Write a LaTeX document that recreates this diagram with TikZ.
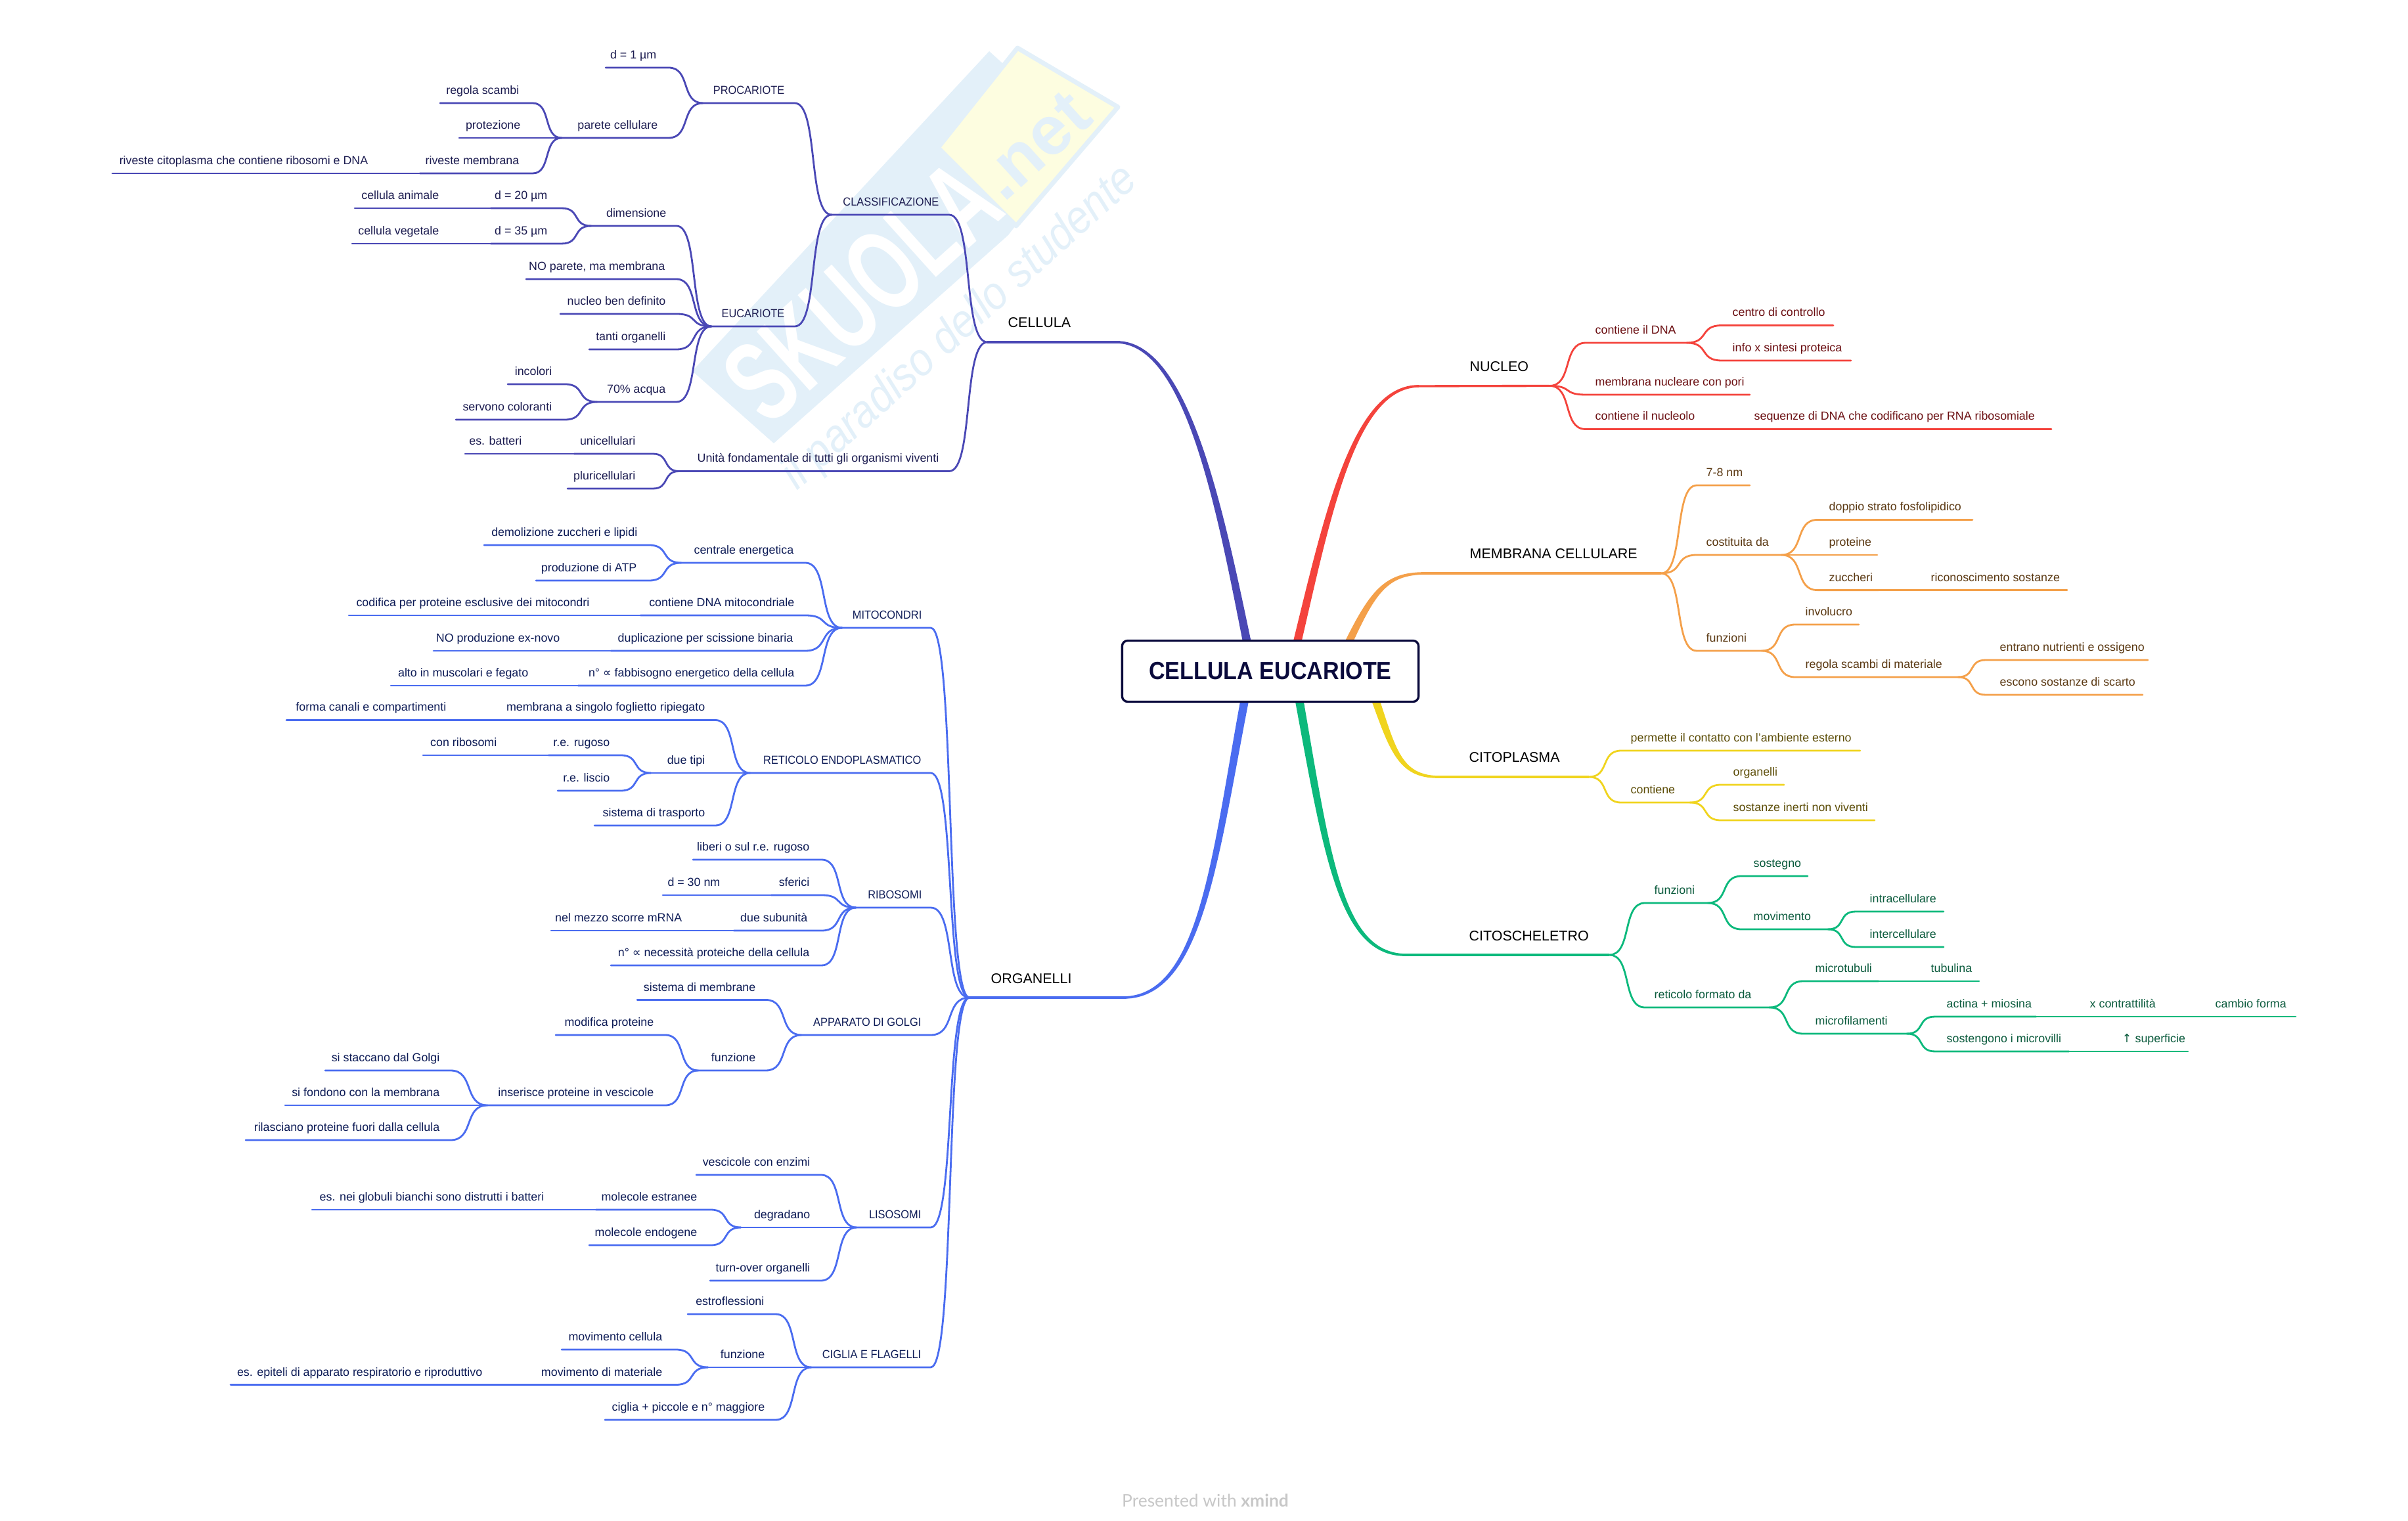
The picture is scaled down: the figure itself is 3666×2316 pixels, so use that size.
\documentclass[tikz,border=0pt]{standalone}
\usepackage{graphicx}
\usepackage{fontspec}
\setmainfont{Liberation Sans}
\newfontfamily\djv{DejaVu Sans}
\newfontfamily\latofam{Lato}
\usetikzlibrary{calc}
\definecolor{cCel}{HTML}{4A48B5}\definecolor{cCelT}{HTML}{1B1B4F}
\definecolor{cOrg}{HTML}{4A6CF0}\definecolor{cOrgT}{HTML}{0C1A55}
\definecolor{cNuc}{HTML}{F4433C}\definecolor{cNucT}{HTML}{6B0F12}
\definecolor{cMem}{HTML}{F4A04A}\definecolor{cMemT}{HTML}{5A3812}
\definecolor{cCit}{HTML}{F0D41E}\definecolor{cCitT}{HTML}{5C4D08}
\definecolor{cSch}{HTML}{0CB97C}\definecolor{cSchT}{HTML}{0A5A3C}
\definecolor{rootc}{HTML}{0A0A3C}
\definecolor{wmb}{HTML}{E3F0F9}\definecolor{wmy}{HTML}{FDFDE0}
\newcommand{\lbf}{\fontsize{5.07}{6}\selectfont}
\newcommand{\mainf}{\fontsize{6.1}{7}\selectfont}
\newcommand{\capf}[1]{\scalebox{.92}[1]{#1}}
\tikzset{
  lk/.style={draw=black,line width=.8pt,line cap=round},
  txt/.style={},
  mainlab/.style={inner sep=0pt,anchor=base west,font=\mainf,text=black},
  thin1/.style={line width=.95pt},
}
% topic: name, parent, inner x, outer x, y, text x, text
\newcommand{\T}[7]{%
  \coordinate (#1-i) at (#3,#5);
  \coordinate (#1-o) at (#4,#5);
  \node[inner sep=0pt,font=\lbf,txt] (#1) at (#6,#5-13.5) {#7};
  \draw[lk] let \p1=(#2-o),\p2=(#1-i),\n1={\x1+.65*(\x2-\x1)},\n2={\x2-.65*(\x2-\x1)} in
    (\p1) .. controls (\n1,\y1) and (\n2,\y2) .. (\p2) -- (#1-o);
}
% chained topic on the parent's line: name, parent, outer x, y, text x, text
\newcommand{\X}[6]{%
  \coordinate (#1-o) at (#3,#4);
  \node[inner sep=0pt,font=\lbf,txt] (#1) at (#5,#4-13.5) {#6};
  \draw[lk] (#2-o) -- (#1-o);
}
% tapered main branch: colour, root x, root y, c1 x, c1 y, c2 x, c2 y, end x, end y; \sg = side
\newcommand{\B}[9]{%
  \fill[#1] (#2-6.5,#3) .. controls (#4-5,#5) and (#6-3,#7+\sg*2.5) .. (#8,#9+\sg*1.8)
     -- (#8,#9-\sg*1.8) .. controls (#6+3,#7-\sg*2.5) and (#4+5,#5) .. (#2+6.5,#3) -- cycle;
}
\begin{document}
\begin{tikzpicture}[x=0.01cm,y=-0.01cm]
\useasboundingbox (0,0) rectangle (3666,2316);
% watermark
\fill[wmb] (1054,565) -- (1506,78) -- (1527,97) -- (1428,225) -- (1545,345) -- (1535,358) -- (1178,675) -- cycle;
\filldraw[fill=wmy,draw=wmb,line width=2pt,line join=round] (1549,73) -- (1702,163) -- (1547,344) -- (1428,225) -- cycle;
\node[rotate=42,text=white,font=\fontsize{50}{56}\selectfont\bfseries,inner sep=0pt] (wmtext) at (1312,443) {\scalebox{.66}[1]{SKUOLA}};
\node[rotate=42,text=wmb,font=\fontsize{30}{36}\selectfont\bfseries,inner sep=0pt] (wmnet) at (1575,222) {.net};
\node[rotate=42,text=wmb,font=\fontsize{20}{24}\selectfont\itshape,inner sep=0pt] (wmslogan) at (1462,500) {\scalebox{.9}[1]{il paradiso dello studente}};
% footer
\node[inner sep=0pt,text=black!22,font=\fontsize{7.5}{9}\selectfont\latofam] (foot) at (1835,2285) {Presented with \textbf{xmind}};

% branches
\coordinate (cellula-o) at (1503,521);
\coordinate (org-o) at (1476,1519);
\coordinate (nucleo-o) at (2359,587.5);
\coordinate (memb0-o) at (2529,873);
\coordinate (cito-o) at (2419,1183);
\coordinate (sch-o) at (2450,1454);

\def\sg{1}
\B{cCel}{1901}{990}{1860}{790}{1810}{521}{1700}{521}
\B{cCit}{2092}{1060}{2120}{1140}{2130}{1183}{2190}{1183}
\B{cSch}{1976}{1055}{2020}{1300}{2040}{1454}{2140}{1454}
\def\sg{-1}
\B{cNuc}{1972}{990}{2020}{790}{2060}{588}{2160}{588}
\B{cMem}{2050}{985}{2090}{900}{2110}{873}{2170}{873}
\B{cOrg}{1897}{1055}{1850}{1300}{1830}{1519}{1710}{1519}
\draw[cCel,thin1] (1705,521) -- (cellula-o);
\draw[cNuc,thin1] (2155,588) -- (nucleo-o);
\draw[cMem,thin1] (2165,873) -- (memb0-o);
\draw[cCit,thin1] (2185,1183) -- (cito-o);
\draw[cSch,thin1] (2135,1454) -- (sch-o);
\draw[cOrg,thin1] (1715,1519) -- (org-o);

\node[mainlab] (lcell) at (1534,499) {CELLULA};
\node[mainlab] (lorg) at (1508,1497) {ORGANELLI};
\node[mainlab] (lnuc) at (2237,566) {NUCLEO};
\node[mainlab] (lmem) at (2237,851) {MEMBRANA CELLULARE};
\node[mainlab] (lcit) at (2236,1160) {CITOPLASMA};
\node[mainlab] (lsch) at (2236,1432) {CITOSCHELETRO};

% CELLULA
\begin{scope}[lk/.style={draw=cCel,line width=.8pt,line cap=round},txt/.style={anchor=base east,text=cCelT}]
\T{class}{cellula}{1445}{1266}{327}{1430}{\capf{CLASSIFICAZIONE}}
\T{proc}{class}{1210}{1070}{157}{1195}{\capf{PROCARIOTE}}
\T{dA}{proc}{1018}{922}{103}{1000}{d = 1 µm}
\T{parete}{proc}{1018}{855}{210}{1002}{parete cellulare}
\T{regola}{parete}{811}{670}{157}{791}{regola scambi}
\T{protez}{parete}{811}{699}{210}{793}{protezione}
\T{rivm}{parete}{811}{639}{264}{791}{riveste membrana}
\X{rivc}{rivm}{171}{264}{561}{riveste citoplasma che contiene ribosomi e DNA}
\T{euc}{class}{1210}{1083}{497}{1195}{\capf{EUCARIOTE}}
\T{dim}{euc}{1030}{900}{344}{1015}{dimensione}
\T{dB}{dim}{855}{747}{317}{834}{d = 20 µm}
\X{cani}{dB}{540}{317}{669}{cellula animale}
\T{dC}{dim}{855}{747}{371}{834}{d = 35 µm}
\X{cveg}{dC}{536}{371}{669}{cellula vegetale}
\T{nop}{euc}{1030}{801}{425}{1013}{NO parete, ma membrana}
\T{nuc}{euc}{1030}{853}{478}{1014}{nucleo ben definito}
\T{tanti}{euc}{1030}{897}{532}{1014}{tanti organelli}
\T{acq}{euc}{1030}{909}{612}{1014}{70\% acqua}
\T{inc}{acq}{860}{773}{585}{841}{incolori}
\T{serv}{acq}{860}{694}{639}{841}{servono coloranti}
\T{unita}{cellula}{1445}{1034}{717.5}{1430}{Unità fondamentale di tutti gli organismi viventi}
\T{uni}{unita}{994}{874}{691}{968}{unicellulari}
\X{batt}{uni}{708}{691}{795}{es. batteri}
\T{plur}{unita}{994}{864}{744}{968}{pluricellulari}
\end{scope}

% ORGANELLI
\begin{scope}[lk/.style={draw=cOrg,line width=.8pt,line cap=round},txt/.style={anchor=base east,text=cOrgT}]
\T{mito}{org}{1417}{1282}{956}{1404}{\capf{MITOCONDRI}}
\T{cent}{mito}{1226}{1037}{857}{1209}{centrale energetica}
\T{demo}{cent}{988}{737}{830}{971}{demolizione zuccheri e lipidi}
\T{atp}{cent}{988}{816}{884}{970}{produzione di ATP}
\T{cdna}{mito}{1226}{975}{937}{1210}{contiene DNA mitocondriale}
\X{cod}{cdna}{531}{937}{898}{codifica per proteine esclusive dei mitocondri}
\T{dup}{mito}{1226}{930}{991}{1208}{duplicazione per scissione binaria}
\X{noprod}{dup}{660}{991}{853}{NO produzione ex-novo}
\T{fab}{mito}{1226}{880}{1044}{1210}{n° {\djv ∝} fabbisogno energetico della cellula}
\X{alto}{fab}{595}{1044}{805}{alto in muscolari e fegato}
\T{ret}{org}{1417}{1142}{1177}{1403}{\capf{RETICOLO ENDOPLASMATICO}}
\T{memb}{ret}{1089}{758}{1096.5}{1074}{membrana a singolo foglietto ripiegato}
\X{forma}{memb}{436}{1096.5}{680}{forma canali e compartimenti}
\T{due}{ret}{1089}{991}{1177}{1074}{due tipi}
\T{rug}{due}{945}{835}{1150}{929}{r.e. rugoso}
\X{conrib}{rug}{644}{1150}{757}{con ribosomi}
\T{lis}{due}{945}{849}{1204}{929}{r.e. liscio}
\T{sist}{ret}{1089}{905}{1257}{1074}{sistema di trasporto}
\T{ribo}{org}{1417}{1303}{1382}{1404}{\capf{RIBOSOMI}}
\T{lib}{ribo}{1251}{1055}{1309}{1233}{liberi o sul r.e. rugoso}
\T{sfe}{ribo}{1251}{1174}{1363}{1233}{sferici}
\X{dD}{sfe}{1009}{1363}{1097}{d = 30 nm}
\T{sub}{ribo}{1251}{1117}{1417}{1230}{due subunità}
\X{mez}{sub}{839}{1417}{1039}{nel mezzo scorre mRNA}
\T{nec}{ribo}{1251}{930}{1470}{1233}{n° {\djv ∝} necessità proteiche della cellula}
\T{gol}{org}{1417}{1220}{1576}{1403}{\capf{APPARATO DI GOLGI}}
\T{sism}{gol}{1166}{970}{1522.5}{1151}{sistema di membrane}
\T{fun}{gol}{1166}{1063}{1630}{1151}{funzione}
\T{modp}{fun}{1013}{846}{1576}{996}{modifica proteine}
\T{ins}{fun}{1013}{742}{1683}{996}{inserisce proteine in vescicole}
\T{stac}{ins}{686}{495}{1630}{670}{si staccano dal Golgi}
\T{fond}{ins}{686}{434}{1683}{670}{si fondono con la membrana}
\T{ril}{ins}{686}{374}{1736}{670}{rilasciano proteine fuori dalla cellula}
\T{lys}{org}{1417}{1304}{1869}{1403}{\capf{LISOSOMI}}
\T{ves}{lys}{1250}{1060}{1789}{1234}{vescicole con enzimi}
\T{deg}{lys}{1250}{1128}{1869}{1234}{degradano}
\T{est}{deg}{1082}{907}{1842}{1062}{molecole estranee}
\X{glob}{est}{475}{1842}{829}{es. nei globuli bianchi sono distrutti i batteri}
\T{endo}{deg}{1082}{897}{1896}{1062}{molecole endogene}
\T{turn}{lys}{1250}{1081}{1950}{1234}{turn-over organelli}
\T{cig}{org}{1417}{1235}{2082}{1403}{\capf{CIGLIA E FLAGELLI}}
\T{estr}{cig}{1181}{1047}{2001}{1164}{estroflessioni}
\T{fuz}{cig}{1181}{1078}{2082}{1165}{funzione}
\T{movc}{fuz}{1029}{855}{2055}{1009}{movimento cellula}
\T{movm}{fuz}{1029}{812}{2108.5}{1009}{movimento di materiale}
\X{epi}{movm}{351}{2108.5}{735}{es. epiteli di apparato respiratorio e riproduttivo}
\T{cil}{cig}{1181}{921}{2162}{1165}{ciglia + piccole e n° maggiore}
\end{scope}

% NUCLEO
\begin{scope}[lk/.style={draw=cNuc,line width=.8pt,line cap=round},txt/.style={anchor=base west,text=cNucT}]
\T{dna}{nucleo}{2414}{2568}{522}{2428}{contiene il DNA}
\T{ctrl}{dna}{2621}{2791}{495.5}{2637}{centro di controllo}
\T{info}{dna}{2621}{2818}{549}{2637}{info x sintesi proteica}
\T{pori}{nucleo}{2414}{2664}{601}{2428}{membrana nucleare con pori}
\T{nclo}{nucleo}{2414}{2590}{653.5}{2428}{contiene il nucleolo}
\X{seq}{nclo}{3123}{653.5}{2670}{sequenze di DNA che codificano per RNA ribosomiale}
\end{scope}

% MEMBRANA
\begin{scope}[lk/.style={draw=cMem,line width=.8pt,line cap=round},txt/.style={anchor=base west,text=cMemT}]
\T{nm}{memb0}{2583}{2664}{739}{2597}{7-8 nm}
\T{cost}{memb0}{2583}{2712}{845}{2597}{costituita da}
\T{dopp}{cost}{2767}{3003}{791.5}{2784}{doppio strato fosfolipidico}
\T{prote}{cost}{2767}{2858}{845}{2784}{proteine}
\T{zuc}{cost}{2767}{2860}{898.6}{2784}{zuccheri}
\X{ric}{zuc}{3147}{898.6}{2939}{riconoscimento sostanze}
\T{fnz}{memb0}{2583}{2682}{991}{2597}{funzioni}
\T{inv}{fnz}{2733}{2830}{951}{2748}{involucro}
\T{reg}{fnz}{2733}{2981}{1031}{2748}{regola scambi di materiale}
\T{entr}{reg}{3023}{3270}{1005}{3044}{entrano nutrienti e ossigeno}
\T{esc}{reg}{3023}{3262}{1058}{3044}{escono sostanze di scarto}
\end{scope}

% CITOPLASMA
\begin{scope}[lk/.style={draw=cCit,line width=.8pt,line cap=round},txt/.style={anchor=base west,text=cCitT}]
\T{perm}{cito}{2468}{2832}{1143}{2482}{permette il contatto con l'ambiente esterno}
\T{cont}{cito}{2468}{2573}{1222}{2482}{contiene}
\T{orga}{cont}{2620}{2716}{1195}{2638}{organelli}
\T{sost}{cont}{2620}{2854}{1249}{2638}{sostanze inerti non viventi}
\end{scope}

% CITOSCHELETRO
\begin{scope}[lk/.style={draw=cSch,line width=.8pt,line cap=round},txt/.style={anchor=base west,text=cSchT}]
\T{fsc}{sch}{2504}{2600}{1375}{2518}{funzioni}
\T{sosg}{fsc}{2651}{2752}{1334}{2669}{sostegno}
\T{movi}{fsc}{2651}{2783}{1415}{2669}{movimento}
\T{intra}{movi}{2825}{2959}{1388}{2846}{intracellulare}
\T{inter}{movi}{2825}{2959}{1442}{2846}{intercellulare}
\T{retf}{sch}{2504}{2694}{1534}{2518}{reticolo formato da}
\T{mtub}{retf}{2745}{2860}{1494}{2763}{microtubuli}
\X{tubu}{mtub}{3013}{1494}{2939}{tubulina}
\T{mfil}{retf}{2745}{2903}{1574}{2763}{microfilamenti}
\T{act}{mfil}{2946}{3100}{1548}{2963}{actina + miosina}
\X{contr}{act}{3290}{1548}{3181}{x contrattilità}
\X{camb}{contr}{3495}{1548}{3372}{cambio forma}
\T{sosm}{mfil}{2946}{3150}{1601}{2963}{sostengono i microvilli}
\X{sup}{sosm}{3331}{1601}{3230}{{\djv ↑} superficie}
\end{scope}

% root
\node[draw=rootc,fill=white,line width=.95pt,rounded corners=2.4pt,minimum width=4.51cm,minimum height=0.93cm,inner sep=0pt,text=rootc,font=\fontsize{10.7}{12}\selectfont\bfseries] (root) at (1934,1022) {\scalebox{.906}[1]{CELLULA EUCARIOTE}};
\end{tikzpicture}
\end{document}
